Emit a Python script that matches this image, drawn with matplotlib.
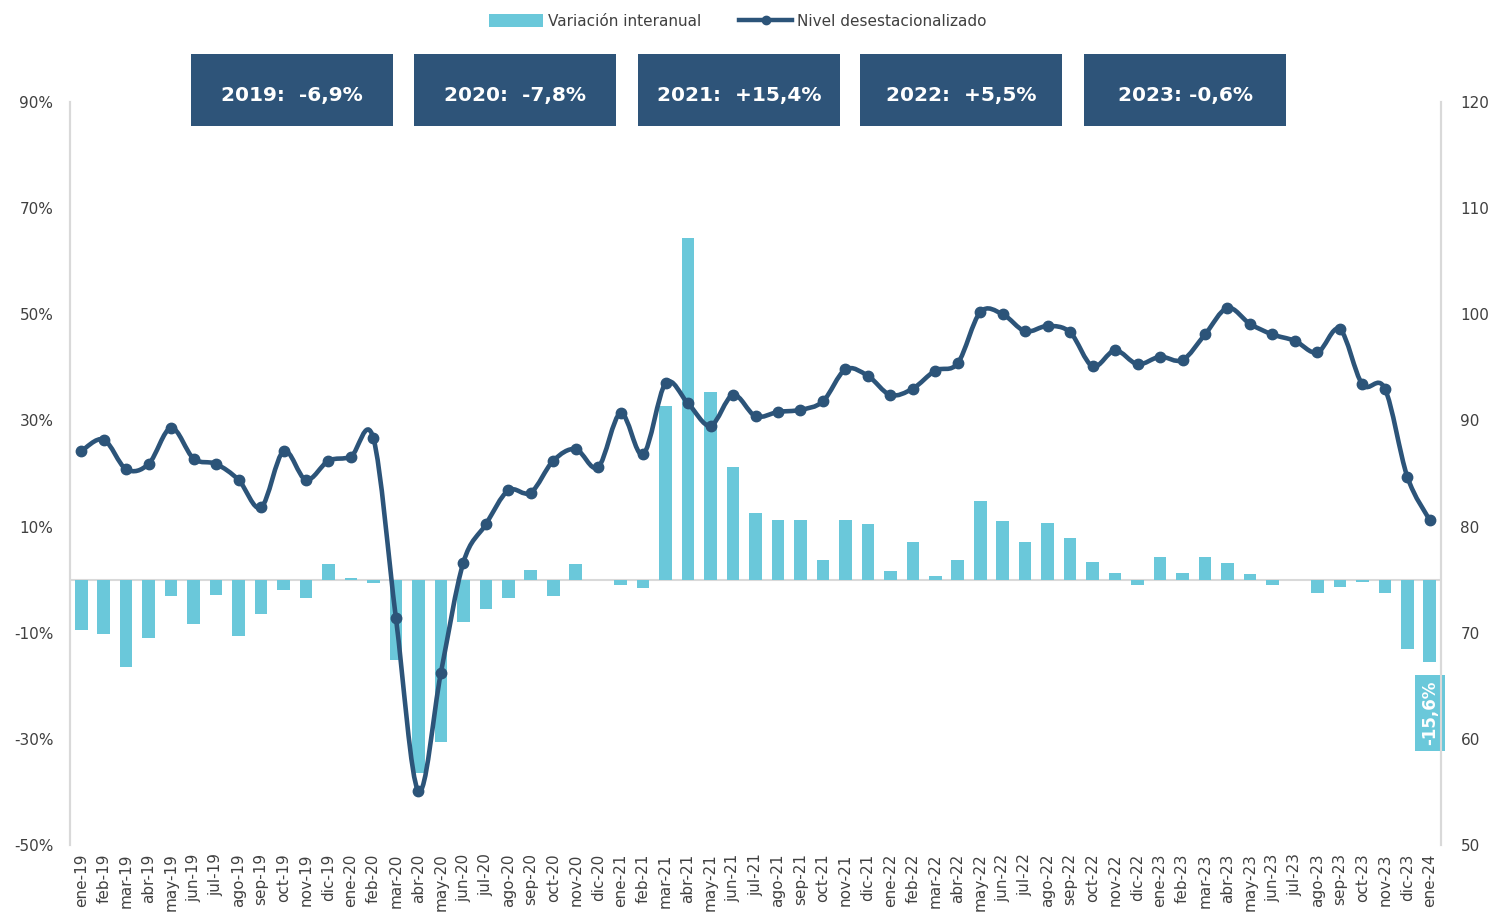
import matplotlib
matplotlib.use("Agg")
import matplotlib.pyplot as plt
import numpy as np
from matplotlib.path import Path
from matplotlib.patches import PathPatch, Rectangle, Patch
from matplotlib.lines import Line2D

plt.rcParams['font.family'] = ['DejaVu Sans']

months = ["ene", "feb", "mar", "abr", "may", "jun", "jul", "ago", "sep", "oct", "nov", "dic"]
labels = [f"{m}-{y}" for y in ["19", "20", "21", "22", "23"] for m in months] + ["ene-24"]

variacion = [
    -9.4, -10.3, -16.4, -11.0, -3.1, -8.3, -2.9, -10.6, -6.4, -1.9, -3.4, 2.9,
    0.4, -0.7, -15.2, -36.5, -30.5, -7.9, -5.6, -3.4, 1.9, -3.1, 2.9, -0.1,
    -1.0, -1.6, 32.7, 64.3, 35.3, 21.2, 12.5, 11.2, 11.2, 3.7, 11.2, 10.4,
    1.6, 7.1, 0.7, 3.7, 14.8, 11.0, 7.0, 10.6, 7.9, 3.4, 1.3, -1.0,
    4.3, 1.3, 4.3, 3.1, 1.0, -1.0, 0.0, -2.6, -1.3, -0.4, -2.6, -13.1,
    -15.6,
]

nivel = [
    87.1, 88.2, 85.4, 85.9, 89.3, 86.4, 85.9, 84.4, 81.8, 87.1, 84.4, 86.2,
    86.6, 88.3, 71.4, 55.1, 66.2, 76.6, 80.2, 83.4, 83.2, 86.2, 87.3, 85.6,
    90.7, 86.8, 93.5, 91.6, 89.5, 92.4, 90.4, 90.8, 91.0, 91.8, 94.8, 94.2,
    92.4, 93.0, 94.7, 95.4, 100.2, 100.0, 98.4, 98.9, 98.3, 95.1, 96.6, 95.3,
    96.0, 95.7, 98.1, 100.6, 99.1, 98.1, 97.5, 96.4, 98.6, 93.4, 93.0, 84.7,
    80.6,
]

year_boxes = ["2019:  -6,9%", "2020:  -7,8%", "2021:  +15,4%", "2022:  +5,5%", "2023: -0,6%"]
last_label = "-15,6%"

bar_color = "#6AC8DA"
line_color = "#2C5479"
box_color = "#2E5479"
text_color = "#404040"
grid_gray = "#D9D9D9"

fig = plt.figure(figsize=(14.91, 9.14), dpi=100)
ax = fig.add_axes([70/1491, 1-845/914, (1441-70)/1491, (845-102)/914])
ax2 = ax.twinx()

x = np.arange(len(labels))
ax.bar(x, variacion, width=0.56, color=bar_color, zorder=2)
ax.axhline(0, color=grid_gray, lw=1.5, zorder=1)
ax.set_xlim(-0.5, len(labels) - 0.5)
ax.set_ylim(-50, 90)
ax.set_yticks(np.arange(-50, 91, 20))
ax.set_yticklabels([f"{v}%" for v in np.arange(-50, 91, 20)])
ax.set_xticks(x)
ax.set_xticklabels(labels, rotation=90)
ax.tick_params(axis='both', length=0, labelsize=11, colors=text_color)
ax.tick_params(axis='x', pad=6)
ax.tick_params(axis='y', pad=12)

ax2.set_ylim(50, 120)
ax2.set_yticks(np.arange(50, 121, 10))
ax2.tick_params(axis='y', length=0, labelsize=11, colors=text_color, pad=14)

for a in (ax, ax2):
    a.spines['top'].set_visible(False)
    a.spines['bottom'].set_visible(False)
    a.spines['left'].set_color(grid_gray)
    a.spines['right'].set_color(grid_gray)
    a.spines['left'].set_linewidth(1.5)
    a.spines['right'].set_linewidth(1.5)

# Smoothed line (Excel style cubic Bezier through the data points)
pts = np.column_stack([x, nivel]).astype(float)
verts = [tuple(pts[0])]
codes = [Path.MOVETO]
n = len(pts)
for i in range(n - 1):
    p0 = pts[i - 1] if i > 0 else pts[i]
    p1 = pts[i]
    p2 = pts[i + 1]
    p3 = pts[i + 2] if i + 2 < n else pts[i + 1]
    c1 = p1 + (p2 - p0) / 6.0
    c2 = p2 - (p3 - p1) / 6.0
    verts += [tuple(c1), tuple(c2), tuple(p2)]
    codes += [Path.CURVE4, Path.CURVE4, Path.CURVE4]
ax2.add_patch(PathPatch(Path(verts, codes), fill=False, edgecolor=line_color,
                        lw=3.3, zorder=3, capstyle='round', joinstyle='round'))
ax2.plot(x, nivel, linestyle='none', marker='o', markersize=7.5,
         color=line_color, zorder=4)

# Label of last bar
ax.text(x[-1], variacion[-1] - 9.5, last_label, rotation=90, ha='center', va='center',
        color='white', fontsize=12, fontweight='bold', zorder=5,
        bbox=dict(boxstyle='square,pad=0.35', fc=bar_color, ec='none'))

# Year boxes
box_lefts = [191, 414, 638, 860, 1084]
for bx, txt in zip(box_lefts, year_boxes):
    r = Rectangle((bx/1491, 1-126/914), 202/1491, 72/914, transform=fig.transFigure,
                  facecolor=box_color, edgecolor='none')
    fig.patches.append(r)
    fig.text((bx + 101)/1491, 1-95/914, txt, ha='center', va='center', color='white',
             fontsize=14.5, fontweight='bold')

# Legend
handles = [Patch(facecolor=bar_color, edgecolor='none'),
           Line2D([0], [0], color=line_color, lw=3.2, marker='o', markersize=6)]
fig.legend(handles, ["Variación interanual", "Nivel desestacionalizado"],
           loc='center', bbox_to_anchor=(738/1491, 1-21/914), ncol=2, frameon=False,
           fontsize=11, handlelength=3.5, handleheight=0.9, columnspacing=2.5,
           handletextpad=0.3, labelcolor=text_color)

fig.savefig("out.png", dpi=100)
